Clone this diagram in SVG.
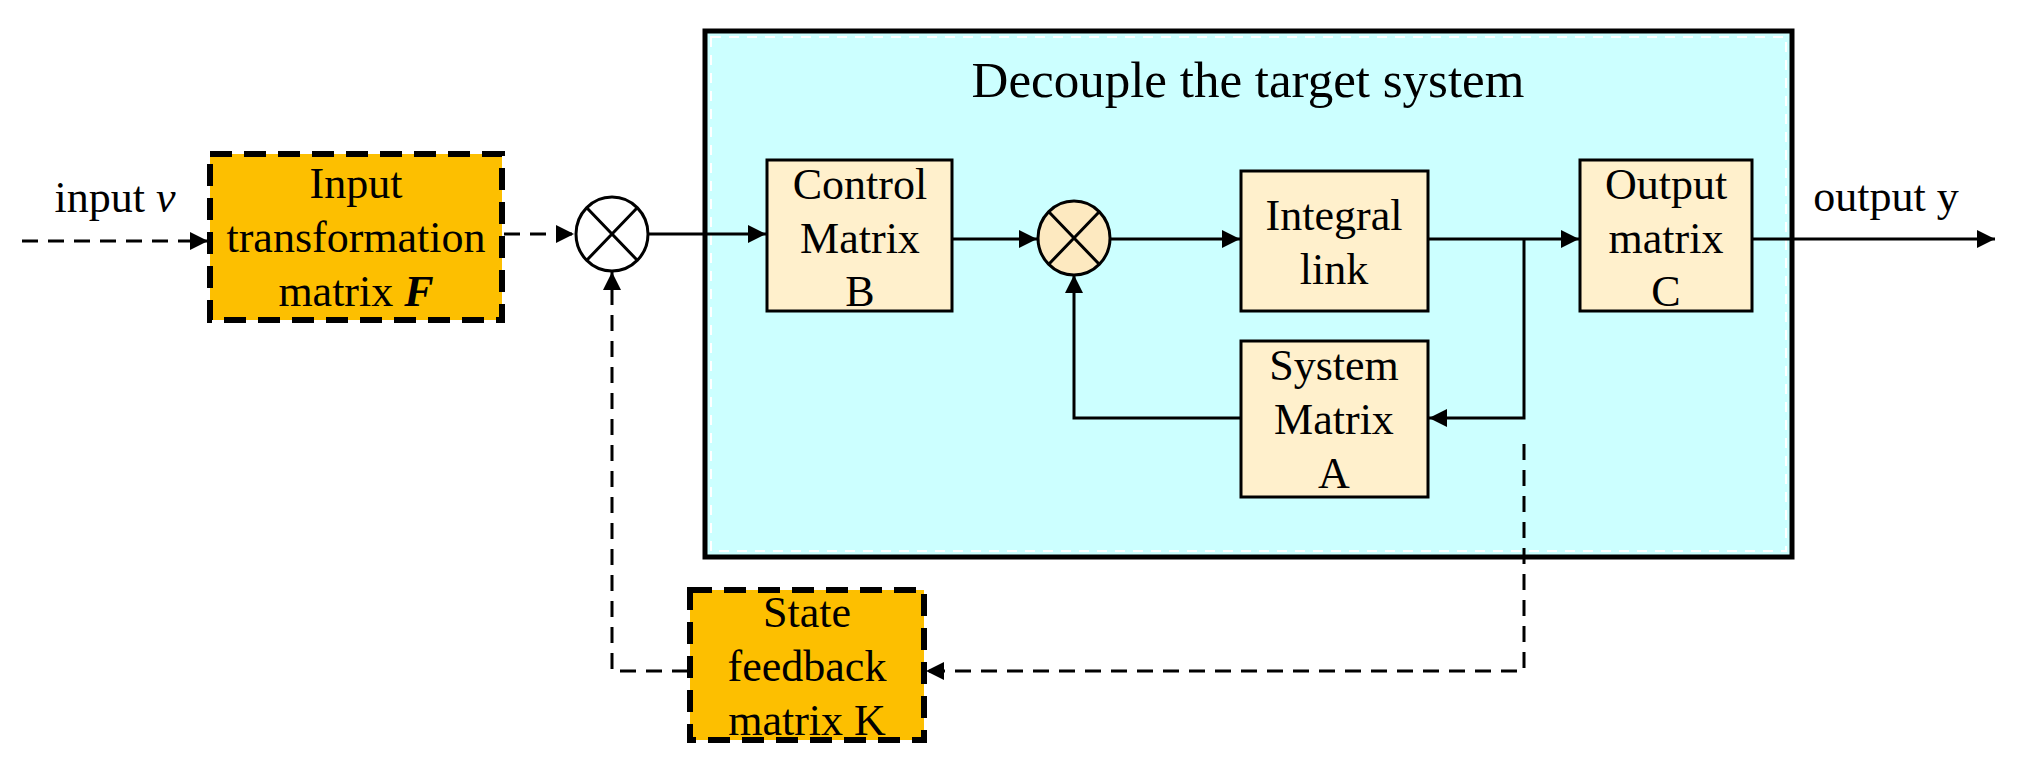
<svg xmlns="http://www.w3.org/2000/svg" width="2017" height="774" viewBox="0 0 2017 774">
<style>
text{font-family:"Liberation Serif","Times New Roman",serif;font-size:44px;fill:#000;text-anchor:middle}
.blk{fill:#fff0cc;stroke:#000;stroke-width:3}
.dash{fill:#fdbf00;stroke:#000;stroke-width:6;stroke-dasharray:22 12}
.ln{fill:none;stroke:#000;stroke-width:3}
.dl{fill:none;stroke:#000;stroke-width:3;stroke-dasharray:16 10}
</style>
<defs>
<marker id="a" viewBox="0 0 10 10" refX="10" refY="5" markerWidth="22" markerHeight="18" markerUnits="userSpaceOnUse" orient="auto"><path d="M0,0L10,5L0,10z" fill="#000"/></marker>
</defs>
<g id="system">
<rect x="705" y="31" width="1087" height="526" fill="#ccffff" stroke="#000" stroke-width="5"/>
<rect x="711" y="37" width="1075" height="514" fill="none" stroke="#fff" stroke-width="2" stroke-dasharray="10 8"/>
<text x="1248" y="97" style="font-size:51px">Decouple the target system</text>
</g>
<g id="inputF"><rect class="dash" x="210" y="154" width="292" height="166"/>
<text x="356" y="198">Input</text><text x="356" y="252">transformation</text><text x="356" y="306">matrix <tspan font-style="italic" font-weight="bold">F</tspan></text></g>
<g id="sum1"><ellipse cx="612" cy="234" rx="36" ry="37" fill="#fff" stroke="#000" stroke-width="3"/>
<path class="ln" d="M587,208L637,260M637,208L587,260"/></g>
<g id="controlB"><rect class="blk" x="767" y="160" width="185" height="151"/>
<text x="860" y="199">Control</text><text x="860" y="253">Matrix</text><text x="860" y="306">B</text></g>
<g id="sum2"><ellipse cx="1074" cy="238" rx="36" ry="37" fill="#fde9c0" stroke="#000" stroke-width="3"/>
<path class="ln" d="M1049,212L1099,264M1099,212L1049,264"/></g>
<g id="integral"><rect class="blk" x="1241" y="171" width="187" height="140"/>
<text x="1334" y="230">Integral</text><text x="1334" y="284">link</text></g>
<g id="systemA"><rect class="blk" x="1241" y="341" width="187" height="156"/>
<text x="1334" y="380">System</text><text x="1334" y="434">Matrix</text><text x="1334" y="488">A</text></g>
<g id="outputC"><rect class="blk" x="1580" y="160" width="172" height="151"/>
<text x="1666" y="199">Output</text><text x="1666" y="253">matrix</text><text x="1666" y="306">C</text></g>
<g id="stateK"><rect class="dash" x="690" y="590" width="234" height="150"/>
<text x="807" y="627">State</text><text x="807" y="681">feedback</text><text x="807" y="735">matrix K</text></g>
<text x="115" y="212">input <tspan font-style="italic">v</tspan></text>
<text x="1886" y="211">output y</text>
<g id="connectors">
<path class="dl" d="M22,241H208" marker-end="url(#a)"/>
<path class="dl" d="M504,234H574" marker-end="url(#a)"/>
<path class="ln" d="M648,234H766" marker-end="url(#a)"/>
<path class="ln" d="M952,239H1037" marker-end="url(#a)"/>
<path class="ln" d="M1110,239H1240" marker-end="url(#a)"/>
<path class="ln" d="M1428,239H1579" marker-end="url(#a)"/>
<path class="ln" d="M1524,239V418H1429" marker-end="url(#a)"/>
<path class="ln" d="M1241,418H1074V275" marker-end="url(#a)"/>
<path class="ln" d="M1752,239H1995" marker-end="url(#a)"/>
<path class="dl" d="M1524,444V671H926" marker-end="url(#a)"/>
<path class="dl" d="M688,671H612V272" marker-end="url(#a)"/>
</g>
</svg>
